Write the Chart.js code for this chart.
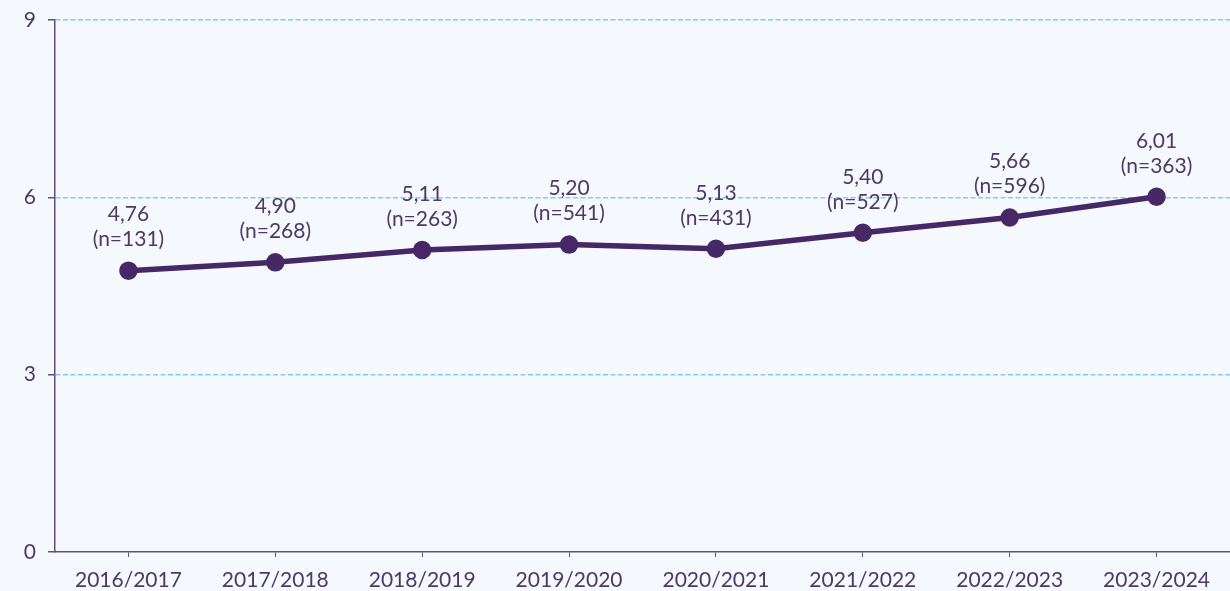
<!DOCTYPE html>
<html>
<head>
<meta charset="utf-8">
<script src="https://cdn.jsdelivr.net/npm/chart.js@4"></script>
<style>
  html, body { margin: 0; padding: 0; background: #f5f8fd; overflow: hidden; }
  #wrap { width: 1230px; height: 591px; position: relative; }
</style>
</head>
<body>
<div id="wrap"><canvas id="chart"></canvas></div>
<script>
const years = ['2016/2017', '2017/2018', '2018/2019', '2019/2020', '2020/2021', '2021/2022', '2022/2023', '2023/2024'];
const scores = [4.76, 4.90, 5.11, 5.20, 5.13, 5.40, 5.66, 6.01];
const counts = [131, 268, 263, 541, 431, 527, 596, 363];
const yTicks = [0, 3, 6, 9];

const textColor = '#4a3a66';
const lineColor = '#452865';
const axisColor = '#5f4f7a';

// value + (n=...) above each point
const pointLabels = {
  id: 'pointLabels',
  afterDatasetsDraw(chart) {
    const ctx = chart.ctx;
    const meta = chart.getDatasetMeta(0);
    ctx.save();
    ctx.font = '21px Lato';
    ctx.fillStyle = textColor;
    ctx.textAlign = 'center';
    ctx.textBaseline = 'middle';
    meta.data.forEach((pt, i) => {
      const val = scores[i].toFixed(2).replace('.', ',');
      ctx.fillText(val, pt.x, pt.y - 56);
      ctx.fillText('(n=' + counts[i] + ')', pt.x, pt.y - 31);
    });
    ctx.restore();
  }
};

new Chart(document.getElementById('chart'), {
  type: 'line',
  data: {
    labels: years,
    datasets: [{
      data: scores,
      borderColor: lineColor,
      backgroundColor: lineColor,
      borderWidth: 5.5,
      pointRadius: 6.5,
      pointHoverRadius: 6.5,
      tension: 0
    }]
  },
  options: {
    responsive: true,
    maintainAspectRatio: false,
    animation: false,
    layout: { autoPadding: false, padding: { top: 20, right: 0, left: 0, bottom: 0 } },
    plugins: {
      legend: { display: false },
      tooltip: { enabled: false }
    },
    scales: {
      x: {
        offset: true,
        grid: {
          offset: false,
          drawOnChartArea: false,
          tickColor: axisColor,
          tickLength: 5
        },
        border: { color: axisColor, width: 1.5 },
        ticks: {
          color: textColor,
          font: { family: 'Lato', size: 21 },
          padding: 11,
          maxRotation: 0
        },
        afterFit(scale) {
          scale.height = 39;
          scale.paddingLeft = 0;
          scale.paddingRight = 0;
        }
      },
      y: {
        min: 0,
        max: 9,
        afterBuildTicks(scale) { scale.ticks = yTicks.map(v => ({ value: v })); },
        grid: {
          color: ctx => ctx.tick && ctx.tick.value === 0 ? 'rgba(0,0,0,0)' : '#84cbf7',
          lineWidth: 1.5,
          tickColor: axisColor,
          tickLength: 7
        },
        border: { color: axisColor, width: 1.5, dash: [5, 2.5] },
        ticks: {
          color: textColor,
          font: { family: 'Lato', size: 21 },
          padding: 12
        },
        afterFit(scale) {
          scale.width = 55;
          scale.paddingTop = 0;
          scale.paddingBottom = 0;
        }
      }
    }
  },
  plugins: [pointLabels]
});
</script>
</body>
</html>
